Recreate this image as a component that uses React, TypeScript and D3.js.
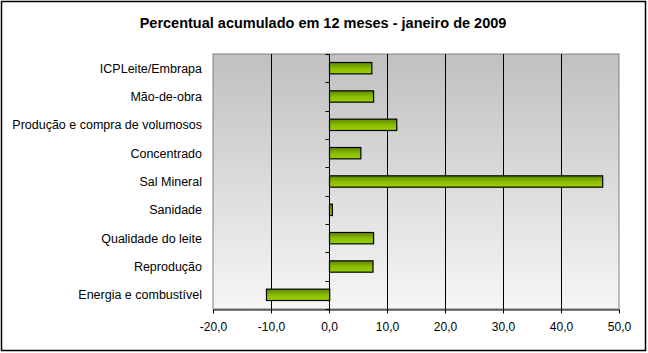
import { useEffect, useRef } from 'react'
import * as d3 from 'd3'

const categories = [
  'ICPLeite/Embrapa',
  'Mão-de-obra',
  'Produção e compra de volumosos',
  'Concentrado',
  'Sal Mineral',
  'Sanidade',
  'Qualidade do leite',
  'Reprodução',
  'Energia e combustível',
]
const values = [7.3, 7.6, 11.6, 5.4, 47.1, 0.5, 7.6, 7.5, -10.9]
const xTicks = [-20, -10, 0, 10, 20, 30, 40, 50]
const title = 'Percentual acumulado em 12 meses - janeiro de 2009'

export default function App() {
  const svgRef = useRef<SVGSVGElement>(null)

  useEffect(() => {
    if (!svgRef.current) return
    const width = 648
    const height = 353
    const margin = { top: 54, right: 29, bottom: 44, left: 213 }
    const innerW = width - margin.left - margin.right
    const innerH = height - margin.top - margin.bottom
    const font = 'Arial, "Liberation Sans", sans-serif'

    const svg = d3.select(svgRef.current)
    svg.selectAll('*').remove()
    svg.attr('width', width).attr('height', height)

    const defs = svg.append('defs')
    const bg = defs.append('linearGradient').attr('id', 'bg').attr('x1', 0).attr('y1', 0).attr('x2', 0).attr('y2', 1)
    bg.append('stop').attr('offset', '0%').attr('stop-color', '#c0c0c0')
    bg.append('stop').attr('offset', '100%').attr('stop-color', '#f6f6f6')
    const bar = defs.append('linearGradient').attr('id', 'bar').attr('x1', 0).attr('y1', 0).attr('x2', 0).attr('y2', 1)
    bar.append('stop').attr('offset', '0%').attr('stop-color', '#5e8800')
    bar.append('stop').attr('offset', '55%').attr('stop-color', '#8cbf00')
    bar.append('stop').attr('offset', '100%').attr('stop-color', '#9ccf00')

    // outer frame
    svg.append('rect')
      .attr('x', 1.5).attr('y', 1.5)
      .attr('width', 644).attr('height', 349)
      .attr('fill', '#fff')
      .attr('stroke', '#000')
      .attr('stroke-width', 1.5)

    svg.append('text')
      .attr('x', 323)
      .attr('y', 28)
      .attr('text-anchor', 'middle')
      .attr('font-family', font)
      .attr('font-weight', 'bold')
      .attr('font-size', '14.5px')
      .text(title)

    const g = svg.append('g').attr('transform', `translate(${margin.left},${margin.top})`)

    g.append('rect')
      .attr('width', innerW)
      .attr('height', innerH)
      .attr('fill', 'url(#bg)')
      .attr('stroke', '#808080')
      .attr('stroke-width', 1)

    const xScale = d3.scaleLinear().domain([-20, 50]).range([0, innerW])
    const yScale = d3.scaleBand().domain(categories).range([0, innerH]).paddingInner(0.6).paddingOuter(0.3)
    const step = innerH / categories.length

    // Grid lines
    g.append('g')
      .selectAll('line')
      .data(xTicks.filter(d => d > -20 && d < 50))
      .enter().append('line')
      .attr('x1', d => Math.round(xScale(d)) + 0.5)
      .attr('x2', d => Math.round(xScale(d)) + 0.5)
      .attr('y1', 0)
      .attr('y2', innerH)
      .attr('stroke', '#000')
      .attr('stroke-width', 1)

    // category ticks on the zero axis
    const x0 = Math.round(xScale(0)) + 0.5
    g.append('g')
      .selectAll('line')
      .data(d3.range(categories.length + 1))
      .enter().append('line')
      .attr('x1', x0 - 4)
      .attr('x2', x0)
      .attr('y1', i => Math.round(i * step) + 0.5)
      .attr('y2', i => Math.round(i * step) + 0.5)
      .attr('stroke', '#000')

    // Bars
    g.selectAll('rect.bar')
      .data(values)
      .enter().append('rect')
      .attr('class', 'bar')
      .attr('x', d => Math.round(xScale(Math.min(0, d))) + 0.5)
      .attr('y', (_, i) => (yScale(categories[i]) ?? 0))
      .attr('width', d => Math.abs(xScale(d) - xScale(0)))
      .attr('height', yScale.bandwidth())
      .attr('fill', 'url(#bar)')
      .attr('stroke', '#000')
      .attr('stroke-width', 1.2)

    // Axes
    g.append('g')
      .attr('transform', `translate(0,${innerH + 0.5})`)
      .call(d3.axisBottom(xScale).tickValues(xTicks).tickSize(4).tickSizeOuter(0)
        .tickFormat(d => d3.format('.1f')(d as number).replace('.', ',').replace('−', '-')))
      .call(ax => ax.select('.domain').attr('stroke', '#000'))
      .call(ax => ax.selectAll('.tick line').attr('stroke', '#000'))
      .call(ax => ax.selectAll('.tick text')
        .attr('fill', '#000')
        .attr('font-family', font)
        .attr('font-size', '12px')
        .attr('dy', '1.2em'))

    g.append('g')
      .selectAll('text')
      .data(categories)
      .enter().append('text')
      .attr('x', -11)
      .attr('y', d => (yScale(d) ?? 0) + yScale.bandwidth() / 2)
      .attr('dy', '0.35em')
      .attr('text-anchor', 'end')
      .attr('font-family', font)
      .attr('font-size', '12.5px')
      .attr('fill', '#000')
      .text(d => d)
  }, [])

  return (
    <div style={{ position: 'absolute', left: 0, top: 0 }}>
      <svg ref={svgRef} style={{ display: 'block' }} />
    </div>
  )
}
